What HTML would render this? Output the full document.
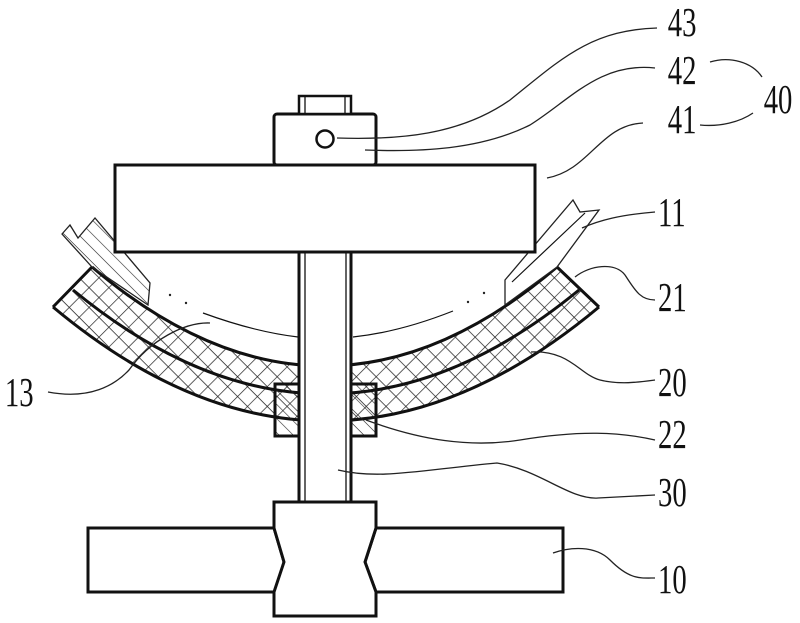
<!DOCTYPE html>
<html><head><meta charset="utf-8"><style>
html,body{margin:0;padding:0;background:#fff;}
svg{display:block;}
text{font-family:"Liberation Serif",serif;font-size:41px;fill:#111;}
</style></head><body>
<svg width="800" height="623" viewBox="0 0 800 623" xmlns="http://www.w3.org/2000/svg">
<defs>
<pattern id="cross" width="14" height="14" patternUnits="userSpaceOnUse" patternTransform="rotate(45)">
<path d="M0 0H14M0 0V14" stroke="#222" stroke-width="1.4" fill="none"/>
</pattern>
<pattern id="diag2" width="10" height="10" patternUnits="userSpaceOnUse" patternTransform="rotate(45)">
<path d="M0 0H10" stroke="#222" stroke-width="1.2" fill="none"/>
</pattern>
</defs>
<g fill="none" stroke="#111" stroke-width="3">
<path d="M92 267 Q325 465 557 267 L579 290 Q326 498 73 290 Z" fill="url(#cross)" stroke="none"/>
<path d="M73 290 Q326 498 579 290 L599 307 Q326 535 53 307 Z" fill="url(#cross)" stroke="none"/>
<path d="M92 267 Q325 465 557 267" />
<path d="M73 290 Q326 498 579 290" />
<path d="M53 307 Q326 535 599 307" />
<path d="M92 267 L53 307 M557 267 L599 307" />
<path d="M62 234 L70 225 L78 238 L95 218 L150 283 L148 305 L92 267 Z" fill="url(#diag2)" stroke="#222" stroke-width="1.3"/>
<path d="M505 280 L573 200 L580 212 L599 210 L557 267 L505 305 Z" fill="#fff" stroke="#222" stroke-width="1.3"/>
<path d="M512 282 L585 213" stroke-width="1.2"/>
<rect x="299" y="252" width="52" height="250" fill="#fff" stroke="none"/>
<path d="M299 252V502 M351 252V502" />
<path d="M305 252V502 M346 252V502" stroke-width="1.3"/>
<rect x="275" y="384" width="24" height="52" fill="url(#diag2)"/>
<rect x="351" y="384" width="25" height="52" fill="url(#diag2)"/>
<path d="M203 313 Q255 332 298 337" stroke-width="1.2"/>
<path d="M353 337 Q400 332 453 311" stroke-width="1.2"/>
<rect x="115" y="165" width="420" height="87" fill="#fff"/>
<rect x="274" y="114" width="102" height="51" rx="3" fill="#fff"/>
<rect x="299" y="96" width="52" height="18" fill="#fff" stroke-width="2.5"/>
<path d="M305 96V114 M345 96V114" stroke-width="1.3"/>
<circle cx="325" cy="139" r="8.5" stroke-width="2.5"/>
<path d="M88 528 H274 L284 562 L276 592 H88 Z" fill="#fff"/>
<path d="M563 528 H376 L365 562 L376 592 H563 Z" fill="#fff"/>
<path d="M274 616 V592 L284 562 L274 528 V502 H376 V528 L365 562 L376 592 V616 Z" fill="#fff"/>
</g>
<g fill="#222">
<circle cx="170" cy="295" r="1.2"/><circle cx="186" cy="303" r="1.2"/>
<circle cx="468" cy="302" r="1.2"/><circle cx="484" cy="293" r="1.2"/>
</g>
<g fill="none" stroke="#222" stroke-width="1.3">
<path d="M657 28 C590 30 560 60 510 100 C460 135 400 140 337 138"/>
<path d="M655 68 C600 62 570 100 530 125 C480 150 420 152 365 150"/>
<path d="M643 123 C600 125 590 170 547 178"/>
<path d="M710 62 C730 56 752 62 762 77"/>
<path d="M700 125 C720 127 740 122 753 113"/>
<path d="M582 228 C600 220 620 215 655 212"/>
<path d="M575 277 C590 265 615 262 625 275 C635 290 640 300 655 300"/>
<path d="M531 352 C570 350 580 375 600 380 C620 385 640 382 655 380"/>
<path d="M366 420 C420 440 470 448 520 440 C580 430 620 432 655 440"/>
<path d="M338 470 C380 480 420 470 497 463 C540 470 570 500 598 498 L655 495"/>
<path d="M553 553 C570 547 595 545 610 560 C630 580 640 578 655 578"/>
<path d="M48 392 C90 400 115 385 129 370 C150 340 185 322 210 323"/>
</g>
<g transform="scale(0.7,1)">
<text x="954" y="36">43</text>
<text x="954" y="84">42</text>
<text x="954" y="133">41</text>
<text x="1091" y="113">40</text>
<text x="940" y="226">11</text>
<text x="940" y="311">21</text>
<text x="940" y="396">20</text>
<text x="940" y="448">22</text>
<text x="940" y="506">30</text>
<text x="940" y="593">10</text>
<text x="7" y="406">13</text>
</g>
</svg>
</body></html>
